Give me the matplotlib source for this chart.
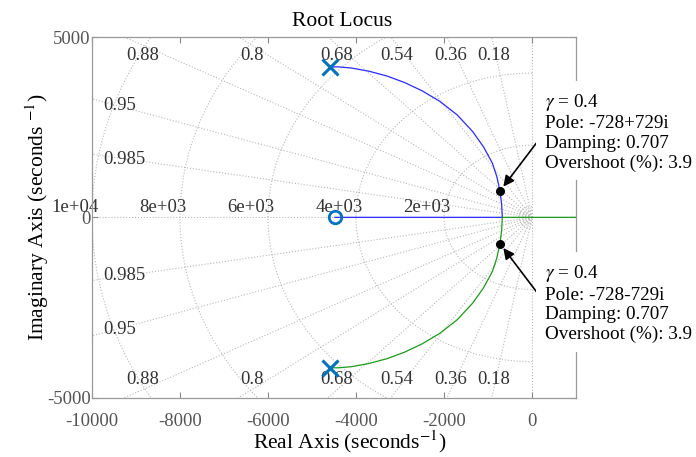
import numpy as np
import matplotlib
matplotlib.use("Agg")
import matplotlib.pyplot as plt

plt.rcParams['font.family'] = ['Liberation Serif', 'DejaVu Serif']
plt.rcParams['mathtext.fontset'] = 'stix'

# open-loop poles / zero
pole_re = [-4600, -4600]
pole_im = [4170, -4170]
zero_re = [-4480]
zero_im = [0]

# upper branch (blue), pole -> real axis -> zero
up_re = [-4600, -4400, -4100, -3700, -3300, -2900, -2500, -2100, -1700,
         -1350, -1100, -900, -800, -728, -690, -675, -4480]
up_im = [4170, 4172, 4140, 4050, 3920, 3740, 3510, 3220, 2840,
         2380, 1950, 1500, 1130, 729, 360, 0, 0]
# lower branch (green), pole -> real axis -> +inf
lo_re = [-4600, -4400, -4100, -3700, -3300, -2900, -2500, -2100, -1700,
         -1350, -1100, -900, -800, -728, -690, -675, 1000]
lo_im = [-4170, -4172, -4140, -4050, -3920, -3740, -3510, -3220, -2840,
         -2380, -1950, -1500, -1130, -729, -360, 0, 0]

# selected points
sel_re = [-728, -728]
sel_im = [729, -729]
sel_txt = ["$\\gamma$ = 0.4\nPole: -728+729i\nDamping: 0.707\nOvershoot (%): 3.9",
           "$\\gamma$ = 0.4\nPole: -728-729i\nDamping: 0.707\nOvershoot (%): 3.9"]
txt_pos = [(295, 2375), (295, -2375)]

# sgrid
zetas = [0.18, 0.36, 0.54, 0.68, 0.8, 0.88, 0.95, 0.985]
wns = [2000, 4000, 6000, 8000, 10000]
wn_small = [100, 200, 300]
wn_labels = ['2e+03', '4e+03', '6e+03', '8e+03', '1e+04']

xticks = [-10000, -8000, -6000, -4000, -2000, 0]
yticks = [-5000, 0, 5000]

fig = plt.figure(figsize=(6.96, 4.57), dpi=100)
ax = fig.add_axes([0.1322, 0.1298, 0.6954, 0.7892])

gcol = '#b8b8b8'
gkw = dict(color=gcol, ls=':', lw=0.8, zorder=1)
for z in zetas:
    th = np.arccos(z)
    r = 30000
    ax.plot([0, -r * np.cos(th)], [0, r * np.sin(th)], **gkw)
    ax.plot([0, -r * np.cos(th)], [0, -r * np.sin(th)], **gkw)
ax.plot([-30000, 0], [0, 0], **gkw)
ax.plot([0, 0], [-30000, 30000], **gkw)
t = np.linspace(np.pi / 2, 3 * np.pi / 2, 300)
for w in wns + wn_small:
    ax.plot(w * np.cos(t), w * np.sin(t), **gkw)

# damping labels
lab_fs = 13.5
for z in zetas:
    th = np.arccos(z)
    if z < 0.9:
        yl = 4780
        xl = -yl / np.tan(th)
        for s in (1, -1):
            ax.text(xl, s * 4500, str(z), ha='center', va='center',
                    fontsize=lab_fs, color='#333333', zorder=2)
    else:
        xl = -9750
        yl = -xl * np.tan(th)
        for s in (1, -1):
            ax.text(xl, s * (yl - 100), str(z), ha='left', va='center',
                    fontsize=lab_fs, color='#333333', zorder=2)
for w, lab in zip(wns, wn_labels):
    ax.text(-w - 390, 40, lab, ha='center', va='bottom',
            fontsize=lab_fs, color='#333333', zorder=2)

# locus branches
ax.plot(up_re, up_im, color='#2a2aff', lw=0.9, zorder=3)
ax.plot(lo_re, lo_im, color='#1c9a1c', lw=0.9, zorder=3)
ax.plot(pole_re, pole_im, 'x', color='#0072BD', ms=11, mew=2.2, zorder=4)
ax.plot(zero_re, zero_im, 'o', color='#0072BD', mfc='none', ms=9, mew=2, zorder=4)
ax.plot(sel_re, sel_im, 'o', color='black', ms=5.5, zorder=5)

for sx, sy, txt, (tx, ty) in zip(sel_re, sel_im, sel_txt, txt_pos):
    ax.annotate(txt, xy=(sx, sy), xytext=(tx, ty), ha='left', va='center',
                fontsize=13.8, linespacing=1.2, annotation_clip=False,
                bbox=dict(boxstyle='square,pad=0.45', fc='white', ec='none'),
                arrowprops=dict(arrowstyle='-|>', color='black', lw=1.2,
                                mutation_scale=16, shrinkA=0, shrinkB=4,
                                relpos=(0, 0.5)),
                zorder=6)

ax.set_xlim(-10000, 1000)
ax.set_ylim(-5000, 5000)
ax.set_xticks(xticks)
ax.set_yticks(yticks)
ax.set_xticklabels([str(v) for v in xticks])
ax.set_yticklabels([str(v) for v in yticks])
ax.tick_params(direction='in', length=4, color='#888888', labelcolor='#555555',
               labelsize=13.5, top=True, right=True)
ax.tick_params(axis='x', pad=11)
ax.tick_params(axis='y', pad=1)
for sp in ax.spines.values():
    sp.set_color('#999999')
    sp.set_linewidth(0.9)

ax.set_title('Root Locus', fontsize=15.5, pad=8, x=0.516)
ax.set_xlabel('Real Axis (seconds$^{-1}$)', fontsize=15.5, labelpad=0)
ax.xaxis.set_label_coords(0.533, -0.085)
ax.set_ylabel('Imaginary Axis (seconds $^{-1}$)', fontsize=15.5, labelpad=-3)

fig.savefig('out.png', dpi=100)
